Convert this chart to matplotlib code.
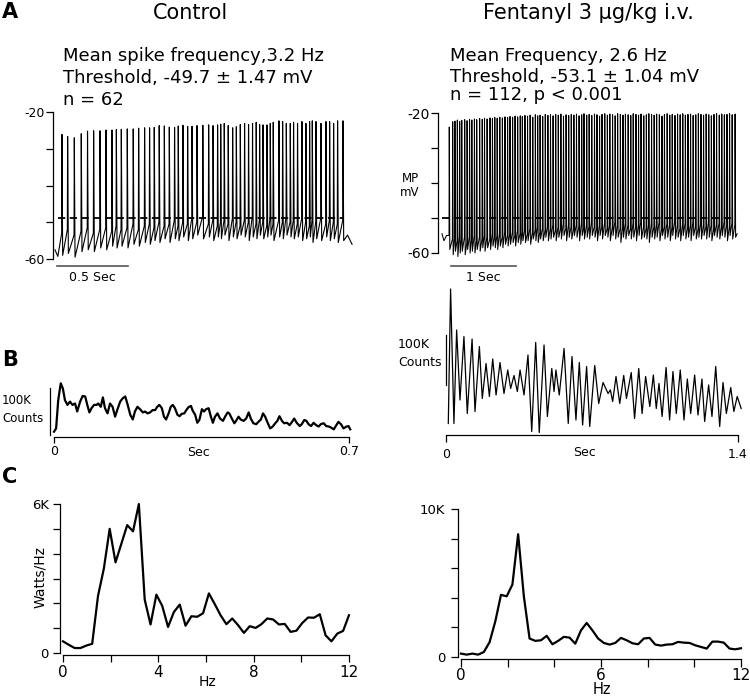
import numpy as np
import matplotlib
matplotlib.use("Agg")
import matplotlib.pyplot as plt

plt.rcParams['font.family'] = ['DejaVu Sans']

# ---------------- DATA ----------------
# Panel A, control: spike times (s), peak, pre-spike and AHP trough (mV)
ctrl_spike_t = [0.047, 0.087, 0.134, 0.183, 0.227, 0.270, 0.315, 0.357, 0.399, 0.430,
                0.465, 0.507, 0.549, 0.587, 0.629, 0.664, 0.697, 0.732, 0.768, 0.803,
                0.840, 0.866, 0.899, 0.932, 0.963, 0.998, 1.039, 1.080, 1.111, 1.143,
                1.165, 1.190, 1.218, 1.249, 1.275, 1.303, 1.333, 1.361, 1.389, 1.415,
                1.439, 1.463, 1.491, 1.514, 1.535, 1.575, 1.601, 1.627, 1.655, 1.678,
                1.706, 1.737, 1.765, 1.791, 1.810, 1.836, 1.871, 1.906, 1.932, 1.960,
                1.988, 2.026]
ctrl_peak = [-26.1, -26.7, -27.0, -25.9, -25.2, -25.1, -25.1, -24.9, -24.9, -24.8,
             -24.7, -24.6, -24.6, -24.4, -24.3, -24.3, -24.2, -23.7, -23.8, -24.1,
             -24.2, -23.8, -23.6, -23.9, -23.9, -23.7, -23.6, -23.5, -23.7, -23.5,
             -23.3, -23.1, -23.7, -24.3, -24.0, -23.4, -23.1, -23.4, -23.1, -22.8,
             -23.4, -23.5, -23.5, -23.1, -22.8, -22.4, -22.6, -23.1, -23.1, -22.8,
             -23.1, -22.6, -23.1, -22.6, -22.4, -22.6, -23.1, -22.6, -22.6, -23.1,
             -22.4, -22.4]
ctrl_pre = [-53, -52, -53.5, -52.5, -51.5, -53, -52, -51.5, -52.5, -51,
            -52, -51.5, -50.5, -52, -51, -50.5, -51.5, -50, -51, -50.5,
            -49.5, -51, -50, -50.5, -49, -50, -48.5, -50.5, -49.5, -51,
            -50, -49.5, -50.5, -49, -50, -51, -49.5, -50, -48.5, -50.5,
            -49.5, -50, -51, -49, -50.5, -49.5, -50, -48.5, -50, -49.5,
            -50.5, -49, -50, -51, -49.5, -50, -49, -50.5, -49.5, -50,
            -50.5, -49.5]
ctrl_trough = [-59, -58.5, -59.5, -58, -57.5, -58, -57, -57.5, -56.5, -57,
               -56.5, -57, -56, -56.5, -55.5, -56, -55, -55.5, -54.5, -55.5,
               -54.5, -55, -54, -55, -54.5, -53.5, -54.5, -54, -55, -54,
               -54.5, -53.5, -55, -54, -54.5, -53.5, -54, -55, -54, -54.5,
               -53.5, -54.5, -54, -53.5, -55, -54, -54.5, -53.5, -54, -54.5,
               -54, -55, -54.5, -54, -55.5, -54.5, -55, -54, -55, -54.5,
               -55.5, -55]
ctrl_start_t, ctrl_start_v = [0.0, 0.02], [-57.5, -59.3]
ctrl_end_t, ctrl_end_v = [2.06, 2.092], [-53.5, -56.0]
ctrl_thresh = -48.8

# Panel A, fentanyl
fent_spike_t = [0.108, 0.160, 0.195, 0.232, 0.268, 0.300, 0.345, 0.382, 0.420, 0.455,
                0.495, 0.530, 0.575, 0.615, 0.650, 0.690, 0.735, 0.772, 0.808, 0.845,
                0.885, 0.925, 0.965, 1.005, 1.042, 1.082, 1.120, 1.160, 1.200, 1.232,
                1.272, 1.312, 1.352, 1.392, 1.432, 1.468, 1.505, 1.545, 1.585, 1.625,
                1.665, 1.705, 1.745, 1.785, 1.825, 1.865, 1.905, 1.945, 1.985, 2.025,
                2.065, 2.105, 2.145, 2.180, 2.222, 2.260, 2.300, 2.342, 2.380, 2.420,
                2.458, 2.500, 2.540, 2.578, 2.620, 2.660, 2.698, 2.740, 2.780, 2.818,
                2.860, 2.900, 2.938, 2.980, 3.020, 3.058, 3.100, 3.140, 3.178, 3.220,
                3.260, 3.298, 3.340, 3.380, 3.418, 3.460, 3.500, 3.538, 3.580, 3.620,
                3.660, 3.700, 3.740, 3.780, 3.820, 3.860, 3.900, 3.940, 3.980, 4.020,
                4.060, 4.100, 4.140, 4.180, 4.220, 4.262, 4.300, 4.340, 4.380, 4.420,
                4.460, 4.505]
fent_peak = [-24.0, -22.5, -22.3, -22.0, -22.4, -22.1, -21.9, -22.2, -21.8, -22.0,
             -21.7, -21.9, -21.6, -21.8, -21.5, -21.7, -21.4, -21.6, -21.3, -21.5,
             -21.2, -21.4, -21.1, -21.3, -21.0, -21.2, -20.9, -21.1, -20.8, -21.0,
             -20.7, -20.9, -20.6, -21.2, -20.5, -20.8, -20.6, -21.0, -20.4, -20.7,
             -20.5, -20.8, -20.4, -20.6, -20.3, -20.9, -20.5, -20.7, -20.4, -20.6,
             -20.3, -20.8, -20.5, -20.2, -20.6, -20.4, -20.7, -20.3, -20.5, -20.9,
             -20.4, -20.2, -20.6, -20.3, -20.5, -20.8, -20.2, -20.4, -20.6, -20.3,
             -20.5, -20.7, -20.2, -20.4, -20.6, -20.3, -20.8, -20.5, -20.2, -20.4,
             -20.6, -20.3, -20.5, -20.9, -20.4, -20.2, -20.6, -20.4, -20.7, -20.3,
             -20.5, -20.2, -20.6, -20.4, -20.3, -20.7, -20.5, -20.2, -20.4, -20.6,
             -20.3, -20.5, -20.8, -20.4, -20.2, -20.6, -20.3, -20.5, -20.4, -20.2,
             -20.5, -20.3]
fent_pre = [-55, -56, -55.5, -56.5, -55, -56, -55.5, -57, -55.5, -56,
            -55, -56.5, -55.5, -56, -55, -55.5, -56, -54.5, -55.5, -55,
            -54.5, -55.5, -54, -55, -54.5, -54, -55, -53.5, -54.5, -54,
            -53.5, -54.5, -53, -54, -53.5, -52.5, -54, -53, -53.5, -52.5,
            -53, -52, -53.5, -52.5, -53, -51.5, -53, -52, -52.5, -53,
            -52, -52.5, -51.5, -53, -52, -52.5, -51, -52.5, -53, -52,
            -52.5, -51.5, -53, -52, -52.5, -51, -52, -53, -52.5, -51.5,
            -52, -53, -51.5, -52.5, -52, -51, -52.5, -53, -52, -51.5,
            -52.5, -52, -51, -53, -52.5, -51.5, -52, -52.5, -51, -52,
            -53, -52, -51.5, -52.5, -52, -51, -52.5, -53, -51.5, -52,
            -52.5, -51, -52, -53, -52, -51.5, -52.5, -51, -52, -52.5,
            -51.5, -52]
fent_trough = [-59, -60.5, -59.5, -61, -60, -59.5, -60.5, -59, -60, -59.5,
               -60, -59, -59.5, -58.5, -59.5, -58.5, -59, -58, -58.5, -59,
               -58, -58.5, -57.5, -58, -57.5, -57, -58, -57, -57.5, -56.5,
               -57, -56.5, -57.5, -56, -56.5, -57, -56, -56.5, -55.5, -56.5,
               -56, -55.5, -56.5, -55.5, -56, -55, -56.5, -55.5, -56, -55,
               -55.5, -56.5, -55, -56, -55.5, -56, -55, -55.5, -56.5, -55,
               -56, -55, -55.5, -56.5, -55, -56, -55.5, -57, -55.5, -56,
               -55, -56, -55.5, -56.5, -55, -56, -55.5, -56, -57, -55.5,
               -56, -55.5, -56.5, -55, -56, -55.5, -56.5, -55, -56, -55.5,
               -56.5, -55, -56, -55.5, -56.5, -55, -56, -55.5, -56, -55,
               -56, -55.5, -56.5, -55, -55.5, -56, -55, -55.5, -56.5, -55,
               -56, -55.5]
fent_start_t, fent_start_v = [0.0, 0.03, 0.07], [-54.5, -56.5, -55.0]
fent_end_t, fent_end_v = [4.54], [-54.5]
fent_thresh = -50.0

# Panel B: autocorrelograms (time s, counts in K)
acf_ctrl_t = [0.000, 0.005, 0.010, 0.016, 0.021, 0.026, 0.032, 0.038, 0.044, 0.050,
              0.055, 0.062, 0.068, 0.074, 0.079, 0.084, 0.089, 0.095, 0.101, 0.105,
              0.111, 0.116, 0.121, 0.127, 0.133, 0.139, 0.145, 0.150, 0.157, 0.163,
              0.169, 0.174, 0.181, 0.187, 0.192, 0.198, 0.204, 0.211, 0.216, 0.222,
              0.228, 0.234, 0.240, 0.245, 0.250, 0.256, 0.261, 0.266, 0.272, 0.277,
              0.282, 0.287, 0.293, 0.298, 0.303, 0.309, 0.314, 0.319, 0.325, 0.329,
              0.335, 0.340, 0.345, 0.351, 0.356, 0.361, 0.367, 0.372, 0.377, 0.382,
              0.388, 0.394, 0.401, 0.406, 0.412, 0.416, 0.422, 0.428, 0.432, 0.438,
              0.443, 0.450, 0.456, 0.462, 0.467, 0.473, 0.480, 0.485, 0.491, 0.496,
              0.501, 0.507, 0.513, 0.519, 0.525, 0.530, 0.535, 0.541, 0.546, 0.553,
              0.559, 0.565, 0.570, 0.576, 0.583, 0.588, 0.594, 0.599, 0.604, 0.610,
              0.616, 0.622, 0.628, 0.633, 0.640, 0.646, 0.652, 0.657, 0.664, 0.670,
              0.675, 0.681, 0.687, 0.694, 0.699, 0.703]
acf_ctrl_c = [7, 14, 74, 110, 99, 74, 64, 71, 64, 67,
              50, 71, 83, 82, 64, 48, 57, 64, 64, 67,
              60, 80, 57, 46, 67, 60, 39, 53, 71, 78,
              82, 67, 43, 33, 50, 60, 55, 48, 50, 46,
              48, 53, 53, 60, 64, 57, 39, 33, 46, 60,
              64, 57, 43, 40, 45, 46, 53, 59, 62, 52,
              43, 26, 32, 55, 50, 55, 57, 40, 26, 39,
              46, 35, 30, 39, 48, 46, 35, 25, 30, 39,
              33, 30, 35, 48, 35, 25, 23, 28, 33, 46,
              39, 26, 14, 18, 25, 30, 40, 30, 25, 26,
              21, 28, 35, 26, 19, 23, 32, 30, 23, 19,
              26, 21, 18, 23, 25, 19, 18, 16, 12, 21,
              28, 23, 14, 18, 19, 12]

acf_fent_t = [0.011, 0.022, 0.038, 0.051, 0.067, 0.086, 0.102, 0.125, 0.139, 0.160,
              0.174, 0.192, 0.208, 0.224, 0.240, 0.259, 0.278, 0.296, 0.310, 0.326,
              0.342, 0.355, 0.374, 0.393, 0.411, 0.430, 0.447, 0.470, 0.486, 0.507,
              0.518, 0.527, 0.543, 0.566, 0.586, 0.604, 0.623, 0.639, 0.655, 0.674,
              0.689, 0.713, 0.732, 0.753, 0.777, 0.788, 0.799, 0.815, 0.833, 0.852,
              0.865, 0.888, 0.904, 0.924, 0.940, 0.957, 0.977, 0.994, 1.008, 1.021,
              1.036, 1.055, 1.072, 1.088, 1.104, 1.123, 1.141, 1.157, 1.173, 1.192,
              1.208, 1.227, 1.240, 1.259, 1.275, 1.293, 1.312, 1.328, 1.344, 1.365,
              1.380, 1.396, 1.415]
acf_fent_c = [23, 292, 23, 210, 70, 197, 43, 192, 47, 177,
              73, 143, 77, 152, 80, 145, 83, 130, 93, 119,
              87, 130, 80, 160, 7, 185, 5, 180, 37, 133,
              87, 130, 80, 173, 23, 157, 30, 145, 20, 137,
              17, 139, 63, 105, 83, 90, 67, 117, 63, 119,
              73, 125, 33, 133, 43, 117, 57, 120, 53, 103,
              37, 135, 30, 127, 43, 130, 30, 112, 43, 120,
              40, 112, 27, 100, 37, 137, 17, 105, 43, 95,
              47, 77, 53]

# Panel C: power spectra (Hz, K Watts/Hz)
n_bins = 50
freq_hz = np.linspace(0, 12, n_bins)
psd_ctrl = [0.47, 0.33, 0.20, 0.20, 0.30, 0.37, 2.30, 3.40, 5.00, 3.65,
            4.40, 5.15, 4.90, 6.00, 2.15, 1.15, 2.35, 1.90, 1.05, 1.65,
            1.95, 1.10, 1.48, 1.46, 1.60, 2.40, 1.97, 1.52, 1.16, 1.39,
            1.12, 0.81, 1.08, 1.01, 1.16, 1.39, 1.35, 1.15, 1.17, 0.85,
            0.90, 1.21, 1.43, 1.42, 1.56, 0.71, 0.47, 0.78, 0.89, 1.52]
psd_fent = [0.23, 0.16, 0.23, 0.16, 0.34, 1.00, 2.40, 4.20, 4.10, 4.90,
            8.30, 4.10, 1.25, 1.09, 1.13, 1.43, 0.86, 1.09, 1.36, 1.31,
            0.90, 1.80, 2.30, 1.80, 1.25, 0.95, 0.84, 0.95, 1.29, 1.13,
            0.93, 0.86, 1.25, 1.29, 0.84, 0.77, 0.84, 0.86, 1.02, 0.97,
            0.95, 0.79, 0.68, 0.57, 1.04, 1.04, 0.97, 0.57, 0.52, 0.59]

titles = ["Control", "Fentanyl 3 \u03bcg/kg i.v."]
ctrl_text = ["Mean spike frequency,3.2 Hz", "Threshold, -49.7 \u00b1 1.47 mV", "n = 62"]
fent_text = ["Mean Frequency, 2.6 Hz", "Threshold, -53.1 \u00b1 1.04 mV", "n = 112, p < 0.001"]

# ---------------- FIGURE ----------------
W, H = 750, 696
fig = plt.figure(figsize=(W / 100, H / 100), dpi=100)


def pax(x0, x1, y0, y1, xmap, ymap):
    """axes spanning pixel box; xmap/ymap = (pixel at value 0, pixels per unit)"""
    ax = fig.add_axes([x0 / W, 1 - y1 / H, (x1 - x0) / W, (y1 - y0) / H])
    ax.set_xlim((x0 - xmap[0]) / xmap[1], (x1 - xmap[0]) / xmap[1])
    ax.set_ylim((ymap[0] - y1) / ymap[1], (ymap[0] - y0) / ymap[1])
    ax.patch.set_alpha(0)
    for s in ax.spines.values():
        s.set_visible(False)
        s.set_linewidth(0.9)
    ax.set_xticks([])
    ax.set_yticks([])
    return ax


def ftext(x, y, s, **kw):
    fig.text(x / W, 1 - y / H, s, **kw)


def build_trace(st_t, st_v, sp_t, pre, peak, trough, en_t, en_v, up, down):
    ts, vs = list(st_t), list(st_v)
    for t, a, b, c in zip(sp_t, pre, peak, trough):
        ts += [t, t + up, t + down]
        vs += [a, b, c]
    ts += list(en_t)
    vs += list(en_v)
    return ts, vs


def yaxis(ax, ticks, labels, lo, hi, size, pad):
    ax.spines['left'].set_visible(True)
    ax.spines['left'].set_bounds(lo, hi)
    ax.set_yticks(ticks)
    ax.set_yticklabels(labels)
    ax.tick_params(axis='y', direction='out', length=5, width=0.9, labelsize=size, pad=pad)


# titles and panel letters
ftext(190, 19, titles[0], ha='center', va='baseline', fontsize=15)
ftext(588, 19, titles[1], ha='center', va='baseline', fontsize=15)
ftext(2, 12, "A", ha='left', va='center', fontsize=15, fontweight='bold')
ftext(2, 360, "B", ha='left', va='center', fontsize=15, fontweight='bold')
ftext(2, 477, "C", ha='left', va='center', fontsize=15, fontweight='bold')
for i, (s1, s2) in enumerate(zip(ctrl_text, fent_text)):
    ftext(63, [61, 83, 105][i], s1, ha='left', va='baseline', fontsize=13)
    ftext(450, [61, 82, 100][i], s2, ha='left', va='baseline', fontsize=13)

# ---- A left
axA1 = pax(53, 356, 105, 270, (55, 142), (38.5, 3.675))
ts, vs = build_trace(ctrl_start_t, ctrl_start_v, ctrl_spike_t, ctrl_pre, ctrl_peak,
                     ctrl_trough, ctrl_end_t, ctrl_end_v, 0.002, 0.007)
axA1.plot(ts, vs, color='black', lw=0.8)
axA1.plot([ctrl_spike_t[0] - 0.025, ctrl_spike_t[-1] + 0.01], [ctrl_thresh] * 2,
          color='black', lw=1.3, dashes=(4, 2.5))
yaxis(axA1, [-60, -50, -40, -30, -20], ['-60', '', '', '', '-20'], -60, -20, 9, 1)
axA1.plot([0.014, 0.514], [-61.9, -61.9], color='#555555', lw=1.2, clip_on=False)
axA1.text(0.264, -65.0, "0.5 Sec", ha='center', va='center', fontsize=9)

# ---- A right
axA2 = pax(438, 745, 105, 270, (442, 65), (43, 3.5))
ts, vs = build_trace(fent_start_t, fent_start_v, fent_spike_t, fent_pre, fent_peak,
                     fent_trough, fent_end_t, fent_end_v, 0.004, 0.012)
axA2.plot(ts, vs, color='black', lw=0.75)
axA2.plot([0.0, 4.5], [fent_thresh] * 2, color='black', lw=1.3, dashes=(4, 2.5))
yaxis(axA2, [-60, -50, -40, -30, -20], ['-60', '', '', '', '-20'], -60, -20, 10, 1)
axA2.plot([0.138, 1.138], [-63.7, -63.7], color='#555555', lw=1.2, clip_on=False)
axA2.text(0.638, -67.0, "1 Sec", ha='center', va='center', fontsize=9)
ftext(410, 179, "MP", ha='center', va='center', fontsize=8.5)
ftext(410, 192, "mV", ha='center', va='center', fontsize=8.5)

# ---- B left
axB1 = pax(45, 356, 375, 437, (54, 421.4), (435, 0.47))
axB1.plot(acf_ctrl_t, acf_ctrl_c, color='black', lw=1.6, clip_on=False)
axB1.spines['bottom'].set_visible(True)
axB1.spines['bottom'].set_bounds(0, 0.7)
axB1.set_xticks([0, 0.7])
axB1.set_xticklabels(['0', '0.7'])
axB1.tick_params(axis='x', direction='out', length=4, width=0.9, labelsize=9, pad=2)
axB1.plot([-0.0095, -0.0095], [0, 100], color='black', lw=0.9, clip_on=False)
ftext(198, 453, "Sec", ha='center', va='center', fontsize=9)
ftext(2, 401, "100K", ha='left', va='center', fontsize=8.5)
ftext(2, 418, "Counts", ha='left', va='center', fontsize=8.5)

# ---- B right
axB2 = pax(442, 745, 280, 435, (446, 208.6), (435, 0.5))
axB2.plot(acf_fent_t, acf_fent_c, color='black', lw=0.9, clip_on=False)
axB2.spines['bottom'].set_visible(True)
axB2.spines['bottom'].set_bounds(0, 1.4)
axB2.set_xticks([0, 1.4])
axB2.set_xticklabels(['0', '1.4'])
axB2.tick_params(axis='x', direction='out', length=5, width=0.9, labelsize=9, pad=4)
axB2.plot([0, 0], [100, 200], color='black', lw=0.9, clip_on=False)
ftext(585, 453, "Sec", ha='center', va='center', fontsize=9)
ftext(398, 345, "100K", ha='left', va='center', fontsize=9)
ftext(398, 363, "Counts", ha='left', va='center', fontsize=9)

# ---- C left
axC1 = pax(60, 356, 498, 655, (63, 23.83), (653, 24.83))
axC1.plot(freq_hz, psd_ctrl, color='black', lw=1.6, clip_on=False)
yaxis(axC1, [0, 1, 2, 3, 4, 5, 6], ['0', '', '', '', '', '', '6K'], 0, 6, 9.5, 3)
axC1.spines['bottom'].set_visible(True)
axC1.spines['bottom'].set_bounds(0, 12)
axC1.set_xticks([0, 2, 4, 6, 8, 10, 12])
axC1.set_xticklabels(['0', '', '4', '', '8', '', '12'])
axC1.tick_params(axis='x', direction='out', length=5, width=0.9, labelsize=11, pad=2)
ftext(208, 682, "Hz", ha='center', va='center', fontsize=10)
ftext(40, 577, "Watts/Hz", ha='center', va='center', fontsize=10, rotation=90)

# ---- C right
axC2 = pax(458, 745, 503, 659, (461, 23.33), (657, 14.8))
axC2.plot(freq_hz, psd_fent, color='black', lw=1.6, clip_on=False)
yaxis(axC2, [0, 2, 4, 6, 8, 10], ['0', '', '', '', '', '10K'], 0, 10, 9.5, 4)
axC2.spines['bottom'].set_visible(True)
axC2.spines['bottom'].set_bounds(0, 12)
axC2.set_xticks([0, 2, 4, 6, 8, 10, 12])
axC2.set_xticklabels(['0', '', '', '6', '', '', '12'])
axC2.tick_params(axis='x', direction='out', length=6, width=0.9, labelsize=11, pad=0.5)
ftext(602, 689, "Hz", ha='center', va='center', fontsize=10.5)

fig.savefig("out.png", dpi=100)
